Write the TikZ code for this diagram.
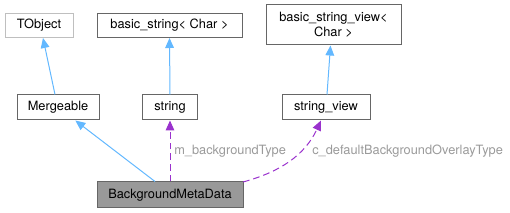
\documentclass[tikz,border=0pt]{standalone}
\usepackage{fontspec}
\setmainfont{TeX Gyre Heros}
\usetikzlibrary{arrows.meta}
\usetikzlibrary{positioning}
\definecolor{edgeblue}{HTML}{63B8FF}
\definecolor{edgepurple}{HTML}{9A32CD}
\definecolor{boxgray}{HTML}{666666}
\definecolor{labelgray}{HTML}{9A9A9A}

\begin{document}
\begin{tikzpicture}[
			x=0.75pt, y=-0.75pt,
			font=\fontsize{9.6}{11}\selectfont,
			class/.style = {draw=boxgray, line width=0.75pt, fill=white, inner sep=0pt, minimum height=18.75pt, align=center},
			inherit/.style = {draw=edgeblue, line width=0.75pt, -{Triangle[length=7.5pt, width=6.5pt]}},
			member/.style = {draw=edgepurple, line width=0.75pt, dash pattern=on 5pt off 3pt, -{Triangle[length=7.5pt, width=6.5pt]}},
			memlabel/.style = {text=labelgray, anchor=west, inner sep=0pt}
			]
			\useasboundingbox (0,0) rectangle (510,213);
			% top row
			\node[class, draw=black!25, minimum width=51pt, minimum height=18pt] (tobj) at (39,25.5) {TObject};
			\node[class, minimum width=108.75pt, minimum height=18pt] (bstr) at (169.5,25.5) {basic\_string< Char >};
			\node[class, minimum width=101.25pt, minimum height=30pt] (bview) at (333.5,25) {basic\_string\_view<\\Char >};
			% middle row
			\node[class, minimum width=61.5pt] (merge) at (58,107.5) {Mergeable};
			\node[class, minimum width=41.25pt] (str) at (170,107.5) {string};
			\node[class, minimum width=66pt] (view) at (326,107.5) {string\_view};
			% the class itself
			\node[class, fill=black!40, minimum width=109.5pt, minimum height=19.5pt] (bmd) at (170,195) {BackgroundMetaData};

			\draw[inherit] ([xshift=-2.25pt]merge.north) -- ([xshift=3pt]tobj.south);
			\draw[inherit] (str.north) -- (bstr.south);
			\draw[inherit] ([xshift=0.75pt]view.north) -- ([xshift=-2.25pt]bview.south);
			\draw[inherit] ([xshift=-11.25pt]bmd.north) -- ([xshift=13pt]merge.south);

			\draw[member] (bmd.north) -- (str.south);
			\coordinate (bmdout) at (243,182);
			\draw[member] (bmdout) .. controls (280,172) and (305,155) .. ([xshift=-3.75pt]view.south);

			\node[memlabel] (lbl1) at (174,151) {m\_backgroundType};
			\node[memlabel] (lbl2) at (312,151) {c\_defaultBackgroundOverlayType};
		\end{tikzpicture}
\end{document}
